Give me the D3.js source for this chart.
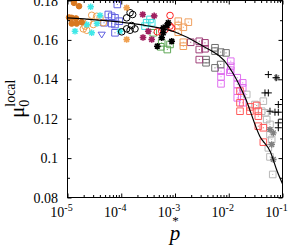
<!DOCTYPE html>
<html>
<head>
<meta charset="utf-8">
<script src="https://cdn.jsdelivr.net/npm/d3@7"></script>
<style>
body { margin: 0; background: #fff; }
text { font-family: "Liberation Serif", "DejaVu Serif", serif; }
</style>
</head>
<body>
<script>
var width = 300, height = 245;

// fit curve [p, mu]
var fitCurve = [[1e-5, 0.1712], [1e-4, 0.1690], [3e-4, 0.1672], [1e-3, 0.1640], [3e-3, 0.1575],
    [1e-2, 0.1465], [2e-2, 0.131], [3.8e-2, 0.111], [6e-2, 0.103], [7.8e-2, 0.094], [1e-1, 0.087]];

// measured points [p, mu]
var orangeDots = [[1.32e-5, 0.1788], [1.64e-5, 0.1771], [1.20e-5, 0.1712], [1.20e-5, 0.1683],
    [1.48e-5, 0.1683], [1.84e-5, 0.1690], [1.44e-5, 0.1709], [1.07e-5, 0.1714]];
var cyanStars = [[2.70e-5, 0.1768], [1.38e-5, 0.1644], [2.82e-5, 0.1636], [2.28e-5, 0.1678],
    [3.54e-5, 0.1683], [4.03e-5, 0.1724], [9.49e-5, 0.1644]];
var orangeCircles = [[2.82e-5, 0.1725], [3.49e-5, 0.1720], [4.03e-5, 0.1712], [2.44e-5, 0.1690],
    [1.97e-5, 0.1656], [2.28e-5, 0.1649], [3.02e-5, 0.1678], [2.12e-5, 0.1670], [4.64e-5, 0.1687]];
var blueSquares = [[8.45e-5, 0.1780], [5.74e-5, 0.1729], [6.64e-5, 0.1720], [7.65e-5, 0.1712],
    [4.78e-5, 0.1687], [6.64e-5, 0.1683], [7.65e-5, 0.1678], [9.20e-5, 0.1695], [7.65e-5, 0.1636]];
var blueTriangles = [[4.33e-5, 0.1627]];
var blackCircles = [[1.46e-4, 0.1738], [1.63e-4, 0.1729], [1.26e-4, 0.1712], [1.56e-4, 0.1673],
    [1.26e-4, 0.1656], [1.02e-4, 0.1641], [1.46e-4, 0.1649], [1.80e-4, 0.1656]];
var orangeStars = [[1.26e-4, 0.1602], [1.26e-4, 0.1763]];
var purpleStars = [[2.51e-4, 0.1729], [4.10e-4, 0.1722], [3.18e-4, 0.1644], [3.69e-4, 0.1602],
    [2.54e-4, 0.1612]];
var cyanSquares = [[2.97e-4, 0.1687], [2.77e-4, 0.1670], [3.43e-4, 0.1704], [3.69e-4, 0.1687]];
var greenSquares = [[3.94e-4, 0.1636], [5.66e-4, 0.1585], [5.42e-4, 0.1565], [7.19e-4, 0.1551],
    [8.08e-4, 0.1577]];
var redCircles = [[8.08e-4, 0.1724], [4.69e-4, 0.1641], [5.66e-4, 0.1644], [6.52e-4, 0.1653],
    [8.08e-4, 0.1670], [8.69e-4, 0.1661]];
var blackStars = [[7.50e-4, 0.1687], [6.05e-4, 0.1636], [5.66e-4, 0.1611], [8.69e-4, 0.1593],
    [4.69e-4, 0.1568], [6.05e-4, 0.1661], [7.10e-4, 0.1673]];
var tanSquares = [[1.15e-3, 0.1695], [1.15e-3, 0.1673], [1.77e-3, 0.1690], [1.43e-3, 0.1664],
    [1.15e-3, 0.1639], [1.43e-3, 0.1588], [1.43e-3, 0.1568]];
var purpleSquares = [[1.96e-3, 0.1588], [2.83e-3, 0.1593], [3.61e-3, 0.1585], [2.83e-3, 0.1551],
    [3.61e-3, 0.1555], [2.83e-3, 0.1500]];
var graySquares = [[5.55e-3, 0.1560], [5.55e-3, 0.1543], [7.08e-3, 0.1538], [8.89e-3, 0.1534],
    [3.78e-3, 0.1500], [3.78e-3, 0.1484], [5.55e-3, 0.1458], [7.08e-3, 0.1475]];
var magentaSquares = [[1.09e-2, 0.1492], [1.09e-2, 0.1466], [1.09e-2, 0.1446], [7.18e-3, 0.1441],
    [7.18e-3, 0.1413], [7.18e-3, 0.1377], [1.05e-2, 0.1436], [1.44e-2, 0.1408], [1.82e-2, 0.1382],
    [1.44e-2, 0.1374], [1.82e-2, 0.1357], [1.44e-2, 0.1340], [1.74e-2, 0.1314], [1.44e-2, 0.1306],
    [1.82e-2, 0.1281]];
var salmonSquares = [[1.62e-2, 0.1340], [1.62e-2, 0.1281], [1.62e-2, 0.1238], [2.48e-2, 0.1260],
    [2.48e-2, 0.1238], [3.31e-2, 0.1267], [3.55e-2, 0.1238], [3.55e-2, 0.1213], [3.55e-2, 0.1162],
    [4.40e-2, 0.1154], [4.40e-2, 0.1081]];
var lightGraySquares = [[2.16e-2, 0.1323], [3.08e-2, 0.1272], [4.40e-2, 0.1289], [4.10e-2, 0.1238],
    [4.72e-2, 0.1230], [5.08e-2, 0.1196], [5.85e-2, 0.1171], [5.85e-2, 0.1120], [6.29e-2, 0.1094],
    [5.45e-2, 0.1052], [5.85e-2, 0.1006], [6.58e-2, 0.0917]];
var grayStars = [[7.80e-2, 0.1408], [5.85e-2, 0.1145], [6.75e-2, 0.1128], [6.29e-2, 0.1069],
    [6.75e-2, 0.0993]];
var blackPlus = [[5.45e-2, 0.1424], [7.57e-2, 0.1408], [4.72e-2, 0.1331], [5.45e-2, 0.1331],
    [8.36e-2, 0.1272], [5.85e-2, 0.1238], [7.24e-2, 0.1233], [8.36e-2, 0.1233], [8.36e-2, 0.1179],
    [8.36e-2, 0.1154]];

var xDecades = [1e-5, 1e-4, 1e-3, 1e-2, 1e-1];
var xExponents = ["-5", "-4", "-3", "-2", "-1"];
var yTicks = [0.08, 0.1, 0.12, 0.14, 0.16, 0.18];
var yTickLabels = ["0.08", "0.1", "0.12", "0.14", "0.16", "0.18"];

var x = d3.scaleLog().domain([1e-5, 1e-1]).range([67.5, 282.5]);
var y = d3.scaleLinear().domain([0.08, 0.18]).range([197.5, 0.5]);

var svg = d3.select("body").append("svg")
    .attr("width", width)
    .attr("height", height);

// symbols
var shapes = {
    square: "M-3.3,-3.3H3.3V3.3H-3.3Z M-0.5,0H0.5",
    circle: "M-3.3,0A3.3,3.3 0 1,0 3.3,0A3.3,3.3 0 1,0 -3.3,0Z",
    dot: "M-2.8,0A2.8,2.8 0 1,0 2.8,0A2.8,2.8 0 1,0 -2.8,0Z",
    star: "M-3.3,0H3.3M0,-3.3V3.3M-2.4,-2.4L2.4,2.4M-2.4,2.4L2.4,-2.4",
    plus: "M-3.5,0H3.5M0,-3.5V3.5",
    tri: "M-3.6,-2.4H3.6L0,3.4Z"
};

var series = [
    {data: magentaSquares, shape: "square", color: "#e070f0"},
    {data: graySquares, shape: "square", color: "#707070"},
    {data: purpleSquares, shape: "square", color: "#a0407a"},
    {data: tanSquares, shape: "square", color: "#f0a060"},
    {data: lightGraySquares, shape: "square", color: "#b8b8b8"},
    {data: salmonSquares, shape: "square", color: "#ff5a5a"},
    {data: greenSquares, shape: "square", color: "#60a858"},
    {data: cyanSquares, shape: "square", color: "#40e0e0"},
    {data: blueSquares, shape: "square", color: "#6060e0"},
    {data: blueTriangles, shape: "tri", color: "#6060e0"},
    {data: orangeCircles, shape: "circle", color: "#f0a050"},
    {data: cyanStars, shape: "star", color: "#40e8e8", width: 1.4},
    {data: orangeDots, shape: "dot", color: "#d87820", fill: true},
    {data: blackCircles, shape: "circle", color: "#000"},
    {data: orangeStars, shape: "star", color: "#f0a050", width: 1.6},
    {data: purpleStars, shape: "star", color: "#a02060", width: 1.6},
    {data: redCircles, shape: "circle", color: "#ff2020"},
    {data: blackStars, shape: "star", color: "#000", width: 1.6},
    {data: grayStars, shape: "star", color: "#808080", width: 1.4},
    {data: blackPlus, shape: "plus", color: "#000"}
];

var line = d3.line()
    .x(function(d) { return x(d[0]); })
    .y(function(d) { return y(d[1]); })
    .curve(d3.curveMonotoneX);

var plot = svg.append("g");

series.forEach(function(s) {
    plot.append("g").selectAll("path")
        .data(s.data)
        .enter().append("path")
        .attr("d", shapes[s.shape])
        .attr("transform", function(d) { return "translate(" + x(d[0]) + "," + y(d[1]) + ")"; })
        .attr("fill", s.fill ? s.color : "none")
        .attr("stroke", s.color)
        .attr("stroke-width", s.width || 1);
});

plot.append("path")
    .datum(fitCurve)
    .attr("d", line)
    .attr("fill", "none")
    .attr("stroke", "#000")
    .attr("stroke-width", 1.2);

// axes (ticks pointing inward)
var xMinor = [];
xDecades.slice(0, -1).forEach(function(d) {
    for (var k = 2; k < 10; k++) xMinor.push(d * k);
});
var yMinor = [0.09, 0.11, 0.13, 0.15, 0.17];

function axis(gen, tr, vals, size) {
    svg.append("g")
        .attr("transform", tr)
        .call(gen.tickValues(vals).tickSizeInner(-size).tickSizeOuter(0).tickFormat(""))
        .call(function(g) { g.select(".domain").remove(); });
}
axis(d3.axisBottom(x), "translate(0,197.5)", xDecades, 4);
axis(d3.axisBottom(x), "translate(0,197.5)", xMinor, 2.5);
axis(d3.axisTop(x), "translate(0,0.5)", xDecades, 4);
axis(d3.axisTop(x), "translate(0,0.5)", xMinor, 2.5);
axis(d3.axisLeft(y), "translate(67.5,0)", yTicks, 4);
axis(d3.axisLeft(y), "translate(67.5,0)", yMinor, 2.5);
axis(d3.axisRight(y), "translate(282.5,0)", yTicks, 4);
axis(d3.axisRight(y), "translate(282.5,0)", yMinor, 2.5);

svg.append("rect")
    .attr("x", 67.5).attr("y", 0.5)
    .attr("width", 215).attr("height", 197)
    .attr("fill", "none").attr("stroke", "#000").attr("stroke-width", 1);

// tick labels
svg.append("g").selectAll("text")
    .data(yTicks)
    .enter().append("text")
    .attr("x", 58)
    .attr("y", function(d) { return y(d) + 5; })
    .attr("text-anchor", "end")
    .attr("font-size", 14)
    .text(function(d, i) { return yTickLabels[i]; });

var xl = svg.append("g").selectAll("text")
    .data(xDecades)
    .enter().append("text")
    .attr("x", function(d) { return x(d) - 6; })
    .attr("y", 217)
    .attr("text-anchor", "middle")
    .attr("font-size", 14);
xl.append("tspan").text("10");
xl.append("tspan").attr("dy", -6).attr("font-size", 10)
    .text(function(d, i) { return xExponents[i]; });
// p* marker: subscript star under the 10^-3 exponent
xl.filter(function(d) { return d === 1e-3; })
    .append("tspan").attr("dx", -8).attr("dy", 14).attr("font-size", 13).text("*");

// axis titles
svg.append("text")
    .attr("x", 175).attr("y", 240)
    .attr("text-anchor", "middle")
    .attr("font-size", 21)
    .attr("font-style", "italic")
    .text("p");

var yt = svg.append("text")
    .attr("transform", "translate(24,118) rotate(-90)")
    .attr("font-size", 21);
yt.append("tspan").text("μ");
yt.append("tspan").attr("font-size", 14).attr("dy", 5).text("0");
yt.append("tspan").attr("font-size", 14).attr("dx", -7).attr("dy", -14).text("local");
</script>
</body>
</html>
